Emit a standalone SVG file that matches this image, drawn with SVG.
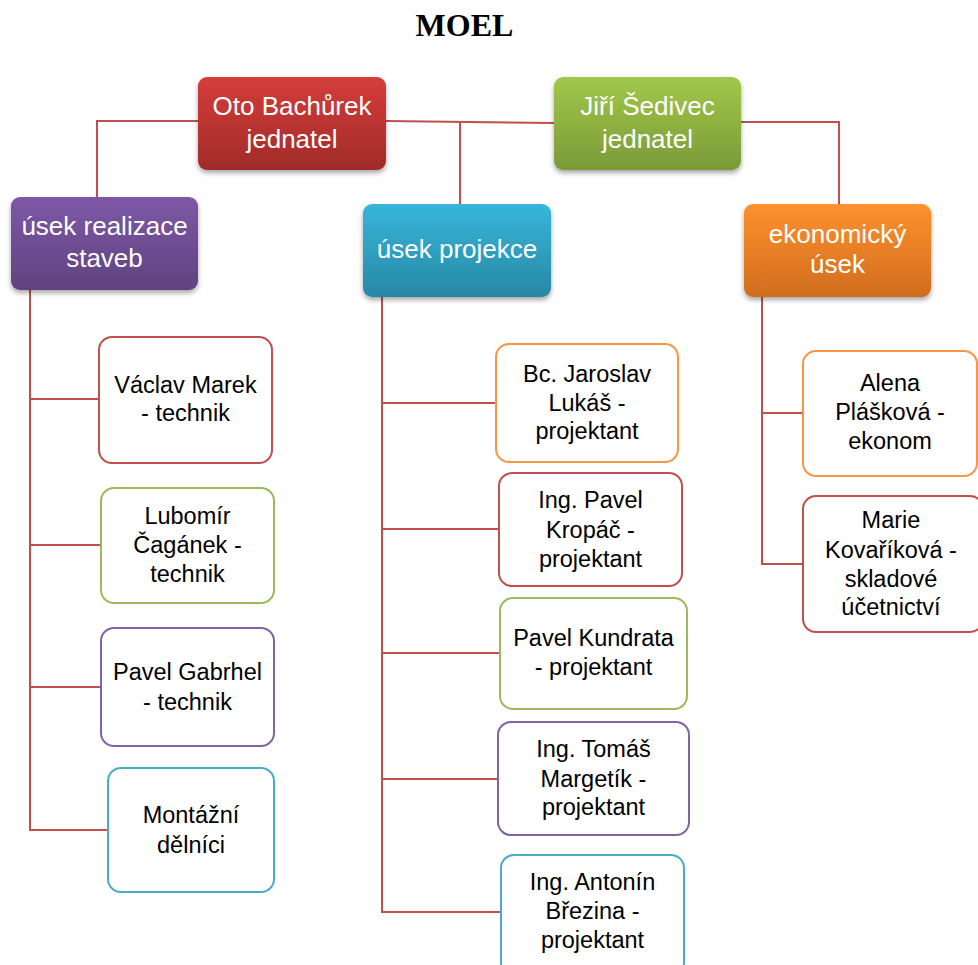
<svg xmlns="http://www.w3.org/2000/svg" width="978" height="965" viewBox="0 0 978 965">
<style>
.title{font-family:"Liberation Serif","Times New Roman",serif;font-weight:bold;font-size:32px;fill:#000}
.ht{font-family:"Liberation Sans",Arial,sans-serif;font-size:26px;fill:#fff;text-anchor:middle}
.ct{font-family:"Liberation Sans",Arial,sans-serif;font-size:23.5px;fill:#000;text-anchor:middle}
.conn{fill:none;stroke:#c0504d;stroke-width:2}
.child{fill:#fff;stroke-width:2}
.red{stroke:#c0504d}.green{stroke:#9bbb59}.purple{stroke:#8064a2}.blue{stroke:#4bacc6}.orange{stroke:#f79646}
</style>
<defs>
<filter id="sh" x="-10%" y="-10%" width="125%" height="135%">
<feDropShadow dx="0" dy="3" stdDeviation="2.5" flood-color="#000" flood-opacity="0.35"/>
</filter>
<linearGradient id="gRed" x1="0" y1="0" x2="0" y2="1"><stop offset="0" stop-color="#d43d3a"/><stop offset="1" stop-color="#a12b29"/></linearGradient>
<linearGradient id="gGreen" x1="0" y1="0" x2="0" y2="1"><stop offset="0" stop-color="#a2c84a"/><stop offset="1" stop-color="#7a9a38"/></linearGradient>
<linearGradient id="gPurple" x1="0" y1="0" x2="0" y2="1"><stop offset="0" stop-color="#7e58a6"/><stop offset="1" stop-color="#5f437f"/></linearGradient>
<linearGradient id="gBlue" x1="0" y1="0" x2="0" y2="1"><stop offset="0" stop-color="#37b6da"/><stop offset="1" stop-color="#2888a5"/></linearGradient>
<linearGradient id="gOrange" x1="0" y1="0" x2="0" y2="1"><stop offset="0" stop-color="#ff912e"/><stop offset="1" stop-color="#d06d1e"/></linearGradient>
</defs>
<rect width="978" height="965" fill="#fff"/>
<text class="title" x="464.5" y="36" text-anchor="middle">MOEL</text>

<g id="connectors">
<polyline class="conn" points="198,121 97,121 97,197"/>
<polyline class="conn" points="386,121 554,123"/>
<polyline class="conn" points="460,121 460,204"/>
<polyline class="conn" points="741,122 839,122 839,204"/>
<polyline class="conn" points="30,290 30,830 108,830"/>
<line class="conn" x1="30" y1="399" x2="99" y2="399"/>
<line class="conn" x1="30" y1="545" x2="101" y2="545"/>
<line class="conn" x1="30" y1="687" x2="101" y2="687"/>
<polyline class="conn" points="382,297 382,912 501,912"/>
<line class="conn" x1="382" y1="403" x2="496" y2="403"/>
<line class="conn" x1="382" y1="529" x2="499" y2="529"/>
<line class="conn" x1="382" y1="653" x2="500" y2="653"/>
<line class="conn" x1="382" y1="779" x2="498" y2="779"/>
<polyline class="conn" points="762,297 762,564 803,564"/>
<line class="conn" x1="762" y1="413" x2="803" y2="413"/>
</g>

<g id="oto">
<rect x="198" y="77" width="188" height="93" rx="9" fill="url(#gRed)" filter="url(#sh)"/>
<text class="ht" x="292" y="115">Oto Bachůrek</text>
<text class="ht" x="292" y="148">jednatel</text>
</g>
<g id="jiri">
<rect x="554" y="77" width="187" height="93" rx="9" fill="url(#gGreen)" filter="url(#sh)"/>
<text class="ht" x="647.5" y="115">Jiří Šedivec</text>
<text class="ht" x="647.5" y="148">jednatel</text>
</g>
<g id="realizace">
<rect x="11" y="197" width="187" height="93" rx="9" fill="url(#gPurple)" filter="url(#sh)"/>
<text class="ht" x="104.5" y="235">úsek realizace</text>
<text class="ht" x="104.5" y="267">staveb</text>
</g>
<g id="projekce">
<rect x="363" y="204" width="188" height="93" rx="9" fill="url(#gBlue)" filter="url(#sh)"/>
<text class="ht" x="457" y="258">úsek projekce</text>
</g>
<g id="ekonomicky">
<rect x="744" y="204" width="187" height="93" rx="9" fill="url(#gOrange)" filter="url(#sh)"/>
<text class="ht" x="837.5" y="243">ekonomický</text>
<text class="ht" x="837.5" y="273">úsek</text>
</g>

<g id="marek">
<rect class="child red" x="99" y="337" width="173" height="126" rx="13"/>
<text class="ct" x="185.5" y="393">Václav Marek</text>
<text class="ct" x="185.5" y="421">- technik</text>
</g>
<g id="caganek">
<rect class="child green" x="101" y="488" width="173" height="115" rx="13"/>
<text class="ct" x="187.5" y="524">Lubomír</text>
<text class="ct" x="187.5" y="553">Čagánek -</text>
<text class="ct" x="187.5" y="582">technik</text>
</g>
<g id="gabrhel">
<rect class="child purple" x="101" y="628" width="173" height="118" rx="13"/>
<text class="ct" x="187.5" y="680">Pavel Gabrhel</text>
<text class="ct" x="187.5" y="710">- technik</text>
</g>
<g id="montazni">
<rect class="child blue" x="108" y="768" width="166" height="124" rx="13"/>
<text class="ct" x="191" y="823">Montážní</text>
<text class="ct" x="191" y="853">dělníci</text>
</g>

<g id="lukas">
<rect class="child orange" x="496" y="344" width="182" height="118" rx="13"/>
<text class="ct" x="587" y="382">Bc. Jaroslav</text>
<text class="ct" x="587" y="411">Lukáš -</text>
<text class="ct" x="587" y="439">projektant</text>
</g>
<g id="kropac">
<rect class="child red" x="499" y="473" width="183" height="113" rx="13"/>
<text class="ct" x="590.5" y="508">Ing. Pavel</text>
<text class="ct" x="590.5" y="538">Kropáč -</text>
<text class="ct" x="590.5" y="567">projektant</text>
</g>
<g id="kundrata">
<rect class="child green" x="500" y="598" width="187" height="111" rx="13"/>
<text class="ct" x="593.5" y="646">Pavel Kundrata</text>
<text class="ct" x="593.5" y="675">- projektant</text>
</g>
<g id="margetik">
<rect class="child purple" x="498" y="722" width="191" height="113" rx="13"/>
<text class="ct" x="593.5" y="757">Ing. Tomáš</text>
<text class="ct" x="593.5" y="787">Margetík -</text>
<text class="ct" x="593.5" y="815">projektant</text>
</g>
<g id="brezina">
<rect class="child blue" x="501" y="855" width="183" height="120" rx="13"/>
<text class="ct" x="592.5" y="890">Ing. Antonín</text>
<text class="ct" x="592.5" y="919">Březina -</text>
<text class="ct" x="592.5" y="948">projektant</text>
</g>

<g id="plaskova">
<rect class="child orange" x="803" y="351" width="174" height="125" rx="13"/>
<text class="ct" x="890" y="391">Alena</text>
<text class="ct" x="890" y="420">Plášková -</text>
<text class="ct" x="890" y="449">ekonom</text>
</g>
<g id="kovarikova">
<rect class="child red" x="803" y="496" width="180" height="136" rx="13"/>
<text class="ct" x="891" y="528">Marie</text>
<text class="ct" x="891" y="558">Kovaříková -</text>
<text class="ct" x="891" y="587">skladové</text>
<text class="ct" x="891" y="615">účetnictví</text>
</g>
</svg>
